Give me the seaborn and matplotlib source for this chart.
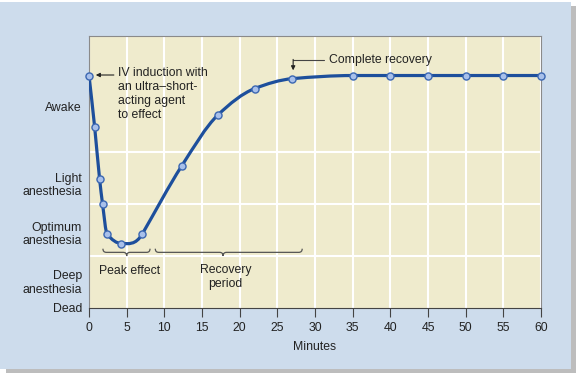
import numpy as np
import pandas as pd
import matplotlib
matplotlib.use("Agg")
import matplotlib.pyplot as plt
from matplotlib.path import Path
from matplotlib.patches import PathPatch, Rectangle
import seaborn as sns

# data
minutes = [0, 0.75, 1.4, 1.8, 2.4, 4.3, 7.1, 12.3, 17.1, 22, 27, 35, 40, 45, 50, 55, 60]
level = [4.47, 3.48, 2.49, 2.0, 1.42, 1.24, 1.43, 2.73, 3.71, 4.22, 4.41,
         4.47, 4.47, 4.47, 4.47, 4.47, 4.47]
state_pos = [3.87, 2.4, 1.46, 0.52, 0]
state_labels = ["Awake", "Light\nanesthesia", "Optimum\nanesthesia", "Deep\nanesthesia", "Dead"]
x_ticks = list(range(0, 61, 5))

BLUE_BG = "#cddcec"
AXES_BG = "#efebcd"
LINE = "#1d4f9c"
FS = 8.8

sns.set_theme(style="darkgrid", rc={
    "axes.facecolor": AXES_BG,
    "grid.color": "white",
    "grid.linewidth": 1.5,
})
plt.rcParams["font.family"] = ["Liberation Sans", "DejaVu Sans"]

fig = plt.figure(figsize=(5.8, 3.79), dpi=100, facecolor="white")
# panel with shadow
fig.patches.append(Rectangle((6 / 580, 6 / 379), 570 / 580, 367 / 379, transform=fig.transFigure,
                             facecolor="#bdbdbd", edgecolor="none", zorder=-2))
fig.patches.append(Rectangle((0, 10 / 379), 571 / 580, 367 / 379, transform=fig.transFigure,
                             facecolor=BLUE_BG, edgecolor="none", zorder=-1))

ax = fig.add_axes([89 / 580, 1 - 308 / 379, 452 / 580, 272 / 379])
ax.set_xlim(0, 60)
ax.set_ylim(0, 5.23)

# smooth curve through the points (monotone cubic as bezier segments)
x = np.array(minutes, dtype=float)
y = np.array(level, dtype=float)
d = np.diff(y) / np.diff(x)
m = np.zeros_like(x)
m[0], m[-1] = d[0], d[-1]
for i in range(1, len(x) - 1):
    if d[i - 1] * d[i] > 0:
        m[i] = 2 / (1 / d[i - 1] + 1 / d[i])
# recovery starts as a straight climb after the peak effect
k = minutes.index(7.1)
m[k] = d[k]
verts = [(x[0], y[0])]
codes = [Path.MOVETO]
for i in range(len(x) - 1):
    h = x[i + 1] - x[i]
    verts += [(x[i] + h / 3, y[i] + m[i] * h / 3),
              (x[i + 1] - h / 3, y[i + 1] - m[i + 1] * h / 3),
              (x[i + 1], y[i + 1])]
    codes += [Path.CURVE4] * 3
ax.add_patch(PathPatch(Path(verts, codes), fill=False, edgecolor=LINE, lw=2.3,
                       capstyle="round", zorder=3))

df = pd.DataFrame({"Minutes": minutes, "Level": level})
sns.scatterplot(data=df, x="Minutes", y="Level", ax=ax, s=26, color="#a8c0ea",
                edgecolor="#3b67b2", linewidth=1.0, zorder=4, clip_on=False)

# grid / ticks
ax.set_xticks(x_ticks)
ax.set_yticks(state_pos)
ax.set_yticklabels(state_labels)
for lab in ax.get_yticklabels():
    lab.set_multialignment("right")
    lab.set_linespacing(1.15)
ax.set_yticks([1, 2, 3], minor=True)
ax.yaxis.grid(False, which="major")
ax.yaxis.grid(True, which="minor")
ax.xaxis.grid(True)
ax.tick_params(axis="y", which="both", length=0, pad=5, labelsize=FS, colors="#222222")
ax.tick_params(axis="x", length=6.5, width=0.8, direction="out", pad=3.5,
               labelsize=FS, colors="#444444", labelcolor="#222222", bottom=True)
ax.set_xlabel("Minutes", fontsize=FS, color="#222222", labelpad=5)
ax.set_ylabel("")
for side, sp in ax.spines.items():
    sp.set_visible(True)
    sp.set_color("#8a8a8a")
    sp.set_linewidth(0.8)
ax.spines["bottom"].set_color("#444444")

# annotations
ax.annotate("", xy=(0.9, 4.48), xytext=(3.3, 4.48),
            arrowprops=dict(arrowstyle="-|>", color="#222222", lw=0.8,
                            mutation_scale=6, shrinkA=0, shrinkB=0))
ax.text(3.8, 4.64, "IV induction with\nan ultra\u2013short-\nacting agent\nto effect",
        fontsize=FS, color="#222222", va="top", ha="left", linespacing=1.25)

ax.plot([27.1, 31.2], [4.77, 4.77], color="#444444", lw=0.8)
ax.annotate("", xy=(27.1, 4.57), xytext=(27.1, 4.78),
            arrowprops=dict(arrowstyle="-|>", color="#222222", lw=0.8,
                            mutation_scale=6, shrinkA=0, shrinkB=0))
ax.text(31.9, 4.77, "Complete recovery", fontsize=FS, color="#222222",
        va="center", ha="left")


def brace(x0, x1, xm, yb):
    w, h = 0.45, 0.07
    bv = [(x0, yb + h), (x0, yb), (x0 + w, yb), (xm - w, yb), (xm, yb), (xm, yb - h),
          (xm, yb), (xm + w, yb), (x1 - w, yb), (x1, yb), (x1, yb + h)]
    bc = [Path.MOVETO, Path.CURVE3, Path.CURVE3, Path.LINETO, Path.CURVE3, Path.CURVE3,
          Path.CURVE3, Path.CURVE3, Path.LINETO, Path.CURVE3, Path.CURVE3]
    ax.add_patch(PathPatch(Path(bv, bc), fill=False, edgecolor="#555555", lw=0.9, zorder=3))


brace(1.85, 8.1, 5.0, 1.07)
brace(8.8, 28.3, 17.8, 1.07)
ax.text(5.45, 0.72, "Peak effect", fontsize=FS, color="#222222", ha="center", va="center")
ax.text(18.1, 0.6, "Recovery\nperiod", fontsize=FS, color="#222222", ha="center",
        va="center", linespacing=1.25)

fig.savefig("out.png", dpi=100, facecolor="white")
